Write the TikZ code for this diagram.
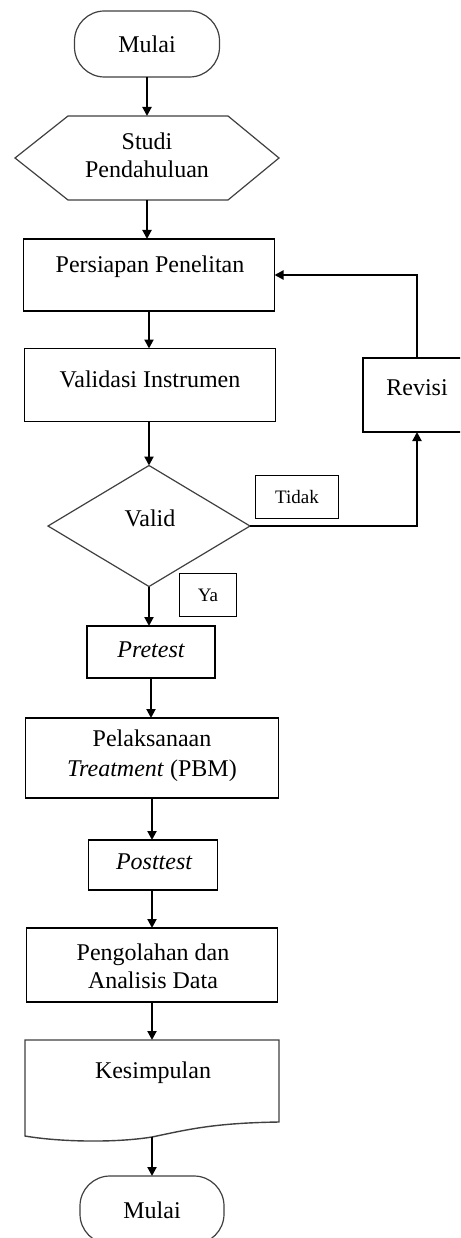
\documentclass[tikz,border=0pt]{standalone}
\usepackage{fontspec}
\setmainfont{Liberation Serif}
\usetikzlibrary{arrows.meta,shapes.geometric}
\begin{document}
\begin{tikzpicture}[x=1pt,y=-1pt,
 box/.style={draw=black, line width=1.7pt, inner sep=0pt, outer sep=0pt},
 thinline/.style={draw=black!75, line width=1.2pt},
 txt/.style={font=\fontsize{24}{28}\selectfont, inner sep=0pt, align=center},
 smalltxt/.style={font=\fontsize{19}{22}\selectfont},
 arr/.style={line width=2pt, -{Triangle[length=9pt,width=9pt]}},
 term/.style={draw=black!75, line width=1.2pt, rounded corners=30pt, inner sep=0pt, outer sep=0pt}]
\useasboundingbox (0,0) rectangle (460,1238);
\clip (0,0) rectangle (460,1238);
\fill[white] (0,0) rectangle (460,1238);

% start terminal
\node[term, minimum width=145pt, minimum height=66pt] (start) at (147,44) {};
\node[txt] (tstart) at (147,44) {Mulai};

% hexagon
\node[inner sep=0pt, outer sep=0pt, minimum width=264pt, minimum height=84pt] (hex) at (147,158) {};
\draw[thinline] (hex.west) -- ([xshift=53pt]hex.north west) -- ([xshift=-51pt]hex.north east)
  -- (hex.east) -- ([xshift=-51pt]hex.south east) -- ([xshift=53pt]hex.south west) -- cycle;
\node[txt] (thex) at (147,155) {Studi\\Pendahuluan};

% persiapan
\node[box, minimum width=251pt, minimum height=72pt] (persiapan) at (149,275) {};
\node[txt] (tpersiapan) at (150,267) {Persiapan Penelitan};

% validasi
\node[box, minimum width=251pt, minimum height=73pt] (validasi) at (150,385) {};
\node[txt] (tvalidasi) at (150,379) {Validasi Instrumen};

% revisi
\node[box, minimum width=108pt, minimum height=74pt] (revisi) at (417,395) {};
\node[txt] (trevisi) at (417,388) {Revisi};

% diamond
\node[diamond, draw=black!75, line width=1.2pt, minimum width=202pt, minimum height=121pt,
  inner sep=0pt, outer sep=0pt] (valid) at (149,526) {};
\node[txt] (tvalid) at (150,518) {Valid};

% labels
\node[box, line width=1.4pt, minimum width=83pt, minimum height=43pt, smalltxt] (tidak) at (297,497) {Tidak};
\node[box, line width=1.4pt, minimum width=57pt, minimum height=43pt, smalltxt] (ya) at (208,595) {Ya};

% pretest
\node[box, minimum width=128pt, minimum height=52pt] (pretest) at (151,652) {};
\node[txt] (tpretest) at (151,650) {\itshape Pretest};

% pelaksanaan
\node[box, minimum width=253pt, minimum height=80pt] (pelak) at (152,758) {};
\node[txt, font=\fontsize{24}{30}\selectfont] (tpelak) at (152,756) {Pelaksanaan\\\textit{Treatment} (PBM)};

% posttest
\node[box, minimum width=129pt, minimum height=50pt] (post) at (153,865) {};
\node[txt] (tpost) at (154,862) {\itshape Posttest};

% pengolahan
\node[box, minimum width=251pt, minimum height=74pt] (peng) at (152,965) {};
\node[txt] (tpeng) at (153,966) {Pengolahan dan\\Analisis Data};

% kesimpulan (document shape)
\node[inner sep=0pt, outer sep=0pt, minimum width=254pt, minimum height=82pt] (kes) at (152,1081) {};
\draw[thinline, line width=1.4pt] (kes.north west) -- (kes.north east) -- (279,1122)
  .. controls (215,1123) and (190,1129) .. (152,1137)
  .. controls (115,1143) and (60,1142) .. (25,1136) -- cycle;
\coordinate (kesbot) at (152,1137);
\node[txt] (tkes) at (153,1073) {Kesimpulan};

% end terminal
\node[term, minimum width=144pt, minimum height=68pt] (end) at (152,1210) {};
\node[txt] (tend) at (152,1210) {Mulai};

% connectors
\draw[arr] (start.south) -- (start.south |- hex.north);
\draw[arr] (hex.south) -- (hex.south |- persiapan.north);
\draw[arr] (persiapan.south) -- (persiapan.south |- validasi.north);
\draw[arr] (validasi.south -| valid.north) -- (valid.north);
\draw[arr] (valid.south) -- (valid.south |- pretest.north);
\draw[arr] (pretest.south) -- (pretest.south |- pelak.north);
\draw[arr] (pelak.south) -- (pelak.south |- post.north);
\draw[arr] (post.south -| peng.north) -- (peng.north);
\draw[arr] (peng.south) -- (peng.south |- kes.north);
\draw[arr] (kesbot) -- (kesbot |- end.north);
\draw[arr] (revisi.north) |- (persiapan.east);
\draw[arr] (valid.east) -| (revisi.south);
\end{tikzpicture}
\end{document}
